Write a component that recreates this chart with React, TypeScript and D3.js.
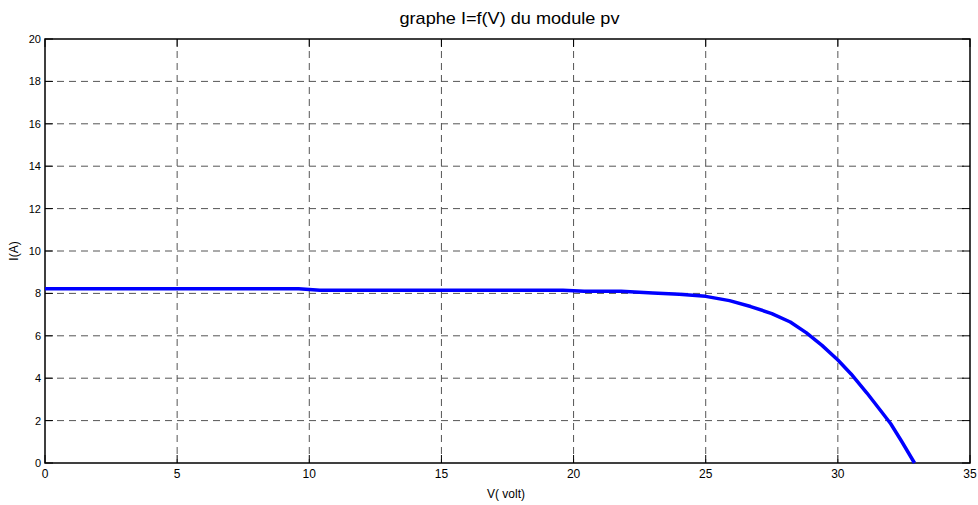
import React from "react";
import * as d3 from "d3";

const voltage = [0, 9.6, 10.4, 19.6, 20.4, 21.8, 23.0, 24.0, 25.0, 25.9, 26.7, 27.5, 28.2, 28.8, 29.4, 30.0, 30.5, 31.1, 31.6, 32.0, 32.4, 32.9];
const current = [8.22, 8.22, 8.15, 8.15, 8.1, 8.1, 8.02, 7.96, 7.86, 7.66, 7.38, 7.05, 6.65, 6.15, 5.55, 4.86, 4.2, 3.3, 2.5, 1.85, 1.05, 0];
const xTicks = [0, 5, 10, 15, 20, 25, 30, 35];
const yTicks = [0, 2, 4, 6, 8, 10, 12, 14, 16, 18, 20];

export default function App() {
  const W = 978, H = 505;
  const L = 45, R = 970, T = 39, B = 463;
  const x = d3.scaleLinear().domain([0, 35]).range([L, R]);
  const y = d3.scaleLinear().domain([0, 20]).range([B, T]);
  const line = d3.line<number>().x((_, i) => x(voltage[i])).y((d) => y(d));
  const font = "'Liberation Sans', Arial, Helvetica, sans-serif";
  return (
    <svg width={W} height={H} style={{ position: "absolute", left: 0, top: 0 }} fontFamily={font}>
      <rect x={0} y={0} width={W} height={H} fill="#fff" />
      {xTicks.slice(1, -1).map((t) => (
        <line key={"gx" + t} x1={x(t)} x2={x(t)} y1={T} y2={B} stroke="#555" strokeWidth={1} strokeDasharray="7,5" />
      ))}
      {yTicks.slice(1, -1).map((t) => (
        <line key={"gy" + t} x1={L} x2={R} y1={y(t)} y2={y(t)} stroke="#555" strokeWidth={1} strokeDasharray="7,5" />
      ))}
      {xTicks.map((t) => (
        <g key={"tx" + t}>
          <line x1={x(t)} x2={x(t)} y1={B} y2={B - 8} stroke="#000" />
          <line x1={x(t)} x2={x(t)} y1={T} y2={T + 8} stroke="#000" />
          <text x={x(t)} y={B + 15} fontSize={12} textAnchor="middle" fill="#000">{t}</text>
        </g>
      ))}
      {yTicks.map((t) => (
        <g key={"ty" + t}>
          <line x1={L} x2={L + 8} y1={y(t)} y2={y(t)} stroke="#000" />
          <line x1={R} x2={R - 8} y1={y(t)} y2={y(t)} stroke="#000" />
          <text x={L - 4} y={y(t) + 4} fontSize={11} textAnchor="end" fill="#000">{t}</text>
        </g>
      ))}
      <rect x={L} y={T} width={R - L} height={B - T} fill="none" stroke="#000" strokeWidth={1.5} />
      <path d={line(current) || ""} fill="none" stroke="#0000ff" strokeWidth={3.5} strokeLinejoin="round" />
      <text x={(L + R) / 2 + 2} y={24} fontSize={17} textAnchor="middle" fill="#000" textLength={220} lengthAdjust="spacingAndGlyphs">graphe I=f(V) du module pv</text>
      <text x={506} y={498} fontSize={12} textAnchor="middle" fill="#000">V( volt)</text>
      <text transform={`translate(18,${(T + B) / 2}) rotate(-90)`} fontSize={12} textAnchor="middle" fill="#000">I(A)</text>
    </svg>
  );
}
